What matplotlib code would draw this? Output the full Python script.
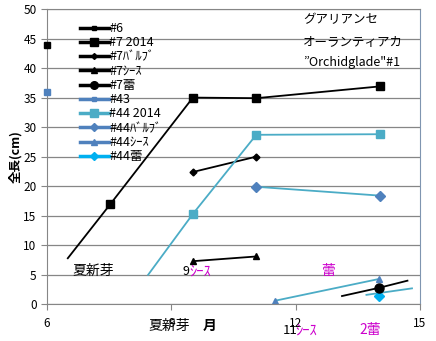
import matplotlib
matplotlib.use("Agg")
import matplotlib.pyplot as plt
from matplotlib.lines import Line2D

plt.rcParams['font.family'] = ['Noto Sans CJK JP', 'DejaVu Sans']

BLACK = 'black'
BLUE = '#4F81BD'
TEAL = '#4BACC6'
CYAN = '#00B0F0'
MAGENTA = '#CC00CC'

# data (x = month, y = length cm)
s6_x = [6.0]
s6_y = [43.9]
s7_2014_x = [6.5, 7.52, 9.52, 11.05, 14.04]
s7_2014_y = [7.8, 16.9, 35.0, 34.9, 36.9]
s7_bulb_x = [9.52, 11.05]
s7_bulb_y = [22.4, 25.0]
s7_sheath_x = [9.52, 11.05]
s7_sheath_y = [7.3, 8.1]
s7_bud_x = [13.12, 14.02, 14.7]
s7_bud_y = [1.4, 2.8, 4.0]
s43_x = [6.0]
s43_y = [35.9]
s44_2014_x = [8.44, 9.52, 11.05, 14.04]
s44_2014_y = [5.0, 15.3, 28.7, 28.8]
s44_bulb_x = [11.05, 14.04]
s44_bulb_y = [19.9, 18.4]
s44_sheath_x = [11.5, 14.02]
s44_sheath_y = [0.6, 4.3]
s44_bud_line_x = [13.71, 14.81]
s44_bud_line_y = [1.6, 2.7]
s44_bud_x = [14.02]
s44_bud_y = [1.4]

legend_labels = ['#6', '#7 2014', '#7ﾊﾞﾙﾌﾞ', '#7ｼｰｽ', '#7蕾',
                 '#43', '#44 2014', '#44ﾊﾞﾙﾌﾞ', '#44ｼｰｽ', '#44蕾']
xticks = [6, 9, 12, 15]
yticks = list(range(0, 51, 5))

fig = plt.figure(figsize=(4.36, 3.41), dpi=100)
ax = fig.add_axes([0.108, 0.1076, 0.855, 0.866])

lw = 1.3
ax.plot(s6_x, s6_y, 's', color=BLACK, ms=4.5, clip_on=False, zorder=5)
ax.plot(s43_x, s43_y, 's', color=BLUE, ms=4.5, clip_on=False, zorder=5)
ax.plot(s7_2014_x, s7_2014_y, '-s', color=BLACK, lw=lw, ms=5.8, markevery=[1, 2, 3, 4])
ax.plot(s7_bulb_x, s7_bulb_y, '-D', color=BLACK, lw=lw, ms=3.5)
ax.plot(s7_sheath_x, s7_sheath_y, '-^', color=BLACK, lw=lw, ms=4.5)
ax.plot(s7_bud_x, s7_bud_y, '-o', color=BLACK, lw=lw, ms=6.5, markevery=[1], zorder=4)
ax.plot(s44_2014_x, s44_2014_y, '-s', color=TEAL, lw=lw, ms=5.8, markevery=[1, 2, 3])
ax.plot(s44_bulb_x, s44_bulb_y, '-', color=TEAL, lw=lw)
ax.plot(s44_bulb_x, s44_bulb_y, 'D', color=BLUE, ms=5)
ax.plot(s44_sheath_x, s44_sheath_y, '-', color=TEAL, lw=lw)
ax.plot(s44_sheath_x, s44_sheath_y, '^', color=BLUE, ms=5)
ax.plot(s44_bud_line_x, s44_bud_line_y, '-', color=TEAL, lw=lw)
ax.plot(s44_bud_x, s44_bud_y, 'D', color=CYAN, ms=5, zorder=3)

ax.set_xlim(6, 15)
ax.set_ylim(0, 50)
ax.set_xticks(xticks)
ax.set_yticks(yticks)
ax.tick_params(axis='both', labelsize=8.5, color='#868686', length=4, direction='out')
ax.tick_params(axis='x', pad=5)
ax.yaxis.grid(True, color='#868686', lw=0.9)
ax.set_axisbelow(True)
for side in ['left', 'bottom', 'top']:
    ax.spines[side].set_color('#868686')
ax.spines['right'].set_color('#7F95B0')
ax.set_ylabel('全長(cm)', fontsize=9, fontweight='bold', labelpad=1)

handles = [
    Line2D([], [], color=BLACK, lw=2.5, marker='s', ms=3.5),
    Line2D([], [], color=BLACK, lw=2.5, marker='s', ms=5.5),
    Line2D([], [], color=BLACK, lw=2.5, marker='D', ms=3),
    Line2D([], [], color=BLACK, lw=2.5, marker='^', ms=4),
    Line2D([], [], color=BLACK, lw=2.5, marker='o', ms=5.5),
    Line2D([], [], color=BLUE, lw=2.5, marker='s', ms=3.5),
    Line2D([], [], color=TEAL, lw=2.5, marker='s', ms=5.5),
    Line2D([], [], color=BLUE, lw=2.5, marker='D', ms=4),
    Line2D([], [], color=BLUE, lw=2.5, marker='^', ms=4),
    Line2D([], [], color=CYAN, lw=2.5, marker='D', ms=4),
]
ax.legend(handles, legend_labels, loc='upper left', bbox_to_anchor=(0.088, 0.956),
          frameon=False, prop={'size': 9}, handlelength=2.3, handletextpad=0.05,
          labelspacing=0.1, borderaxespad=0, borderpad=0)

# annotations
ax.text(12.18, 48.2, 'グアリアンセ', fontsize=9, va='center')
ax.text(12.18, 44.3, 'オーランティアカ', fontsize=9, va='center')
ax.text(12.18, 41.0, '”Orchidglade"#1', fontsize=9, va='center')

ax.text(6.6, 5.6, '夏新芽', fontsize=10, va='center')
ax.text(9.28, 5.6, '9', fontsize=9, va='center')
ax.text(9.43, 5.6, 'ｼｰｽ', fontsize=10.5, va='center', color=MAGENTA)
ax.text(12.78, 5.6, '蕾', fontsize=10, va='center', ha='center', color=MAGENTA)

ax.text(8.44, -3.7, '夏新芽', fontsize=10, va='center', clip_on=False)
ax.text(9.76, -3.7, '月', fontsize=10, va='center', fontweight='bold', clip_on=False)
ax.text(11.69, -4.4, '11', fontsize=9.5, va='center', clip_on=False)
ax.text(12.0, -4.4, 'ｼｰｽ', fontsize=10.5, va='center', color=MAGENTA, clip_on=False)
ax.text(13.55, -4.4, '2蕾', fontsize=10, va='center', color=MAGENTA, clip_on=False)

fig.savefig('out.png', dpi=100)
